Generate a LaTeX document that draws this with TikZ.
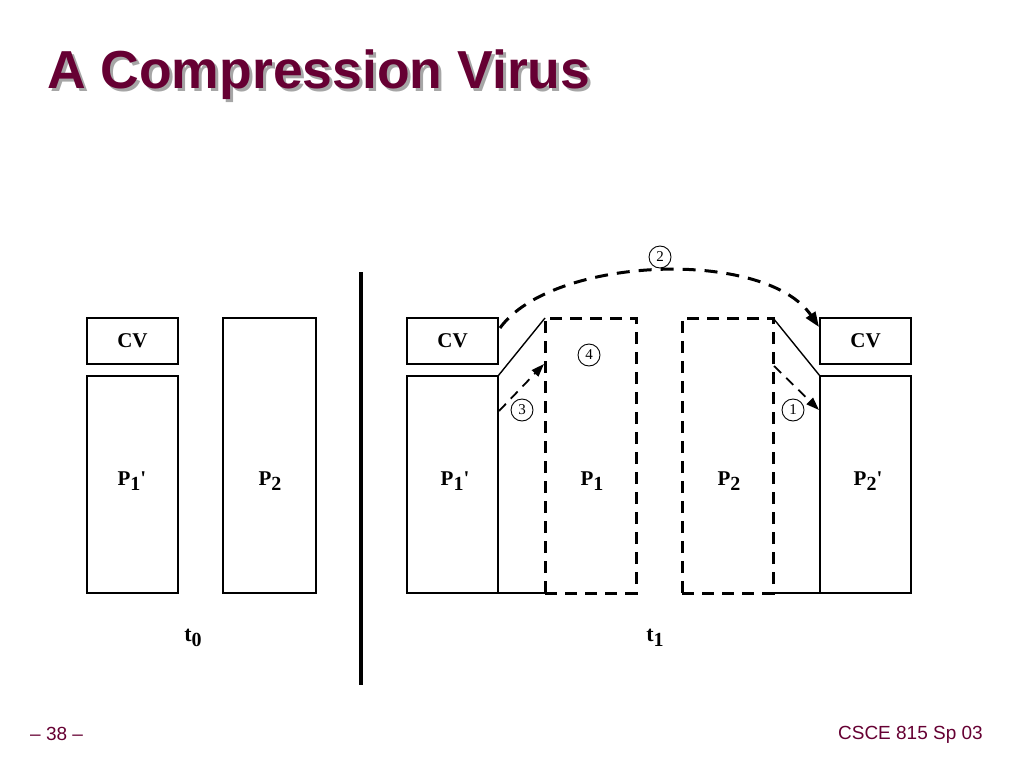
\documentclass[tikz,border=0pt]{standalone}
\usepackage{fontspec}
\setmainfont{Liberation Serif}
\newfontfamily\sansf{Liberation Sans}
\usetikzlibrary{arrows.meta}
\definecolor{maroon}{HTML}{660033}
\definecolor{shadowgray}{HTML}{A6A6A6}
\newcommand{\lbl}[2]{#1{\fontsize{20}{20}\selectfont\raisebox{-5pt}{#2}}}
\begin{document}
\begin{tikzpicture}[x=1pt,y=-1pt,
  box/.style={draw,line width=1.6pt,inner sep=0pt,outer sep=0pt,minimum width=91pt,font=\fontsize{21}{21}\selectfont\bfseries},
  dbox/.style={draw,line width=3pt,dash pattern=on 12pt off 8pt,inner sep=0pt,outer sep=0pt,minimum width=91pt,minimum height=275pt},
  plabel/.style={inner sep=0pt,font=\fontsize{21}{21}\selectfont\bfseries},
  solid line/.style={line width=1.4pt},
  bigdash/.style={line width=3pt,dash pattern=on 13pt off 9pt},
  smalldash/.style={line width=1.8pt,dash pattern=on 10pt off 7pt},
  tip/.style={-{Triangle[length=13pt,width=9pt]}},
  num/.style={circle,draw,line width=0.9pt,inner sep=0pt,minimum size=22pt,font=\fontsize{15}{15}\selectfont},
  tlabel/.style={inner sep=0pt,font=\fontsize{22}{22}\selectfont\bfseries},
  footer/.style={text=maroon,font=\sansf\fontsize{19}{19}\selectfont}]
\useasboundingbox (0,0) rectangle (1024,768);
\fill[white] (0,0) rectangle (1024,768);
% title
\node[anchor=base west,inner sep=0pt,text=shadowgray,font=\sansf\bfseries\fontsize{53.5}{53.5}\selectfont] (titleshadow) at (50,91) {A Compression Virus};
\node[anchor=base west,inner sep=0pt,text=maroon,font=\sansf\bfseries\fontsize{53.5}{53.5}\selectfont] (title) at (47,88) {A Compression Virus};
% left part t0
\node[box,minimum height=46pt] (cvA) at (132.5,341) {CV};
\node[box,minimum height=217pt] (p1pA) at (132.5,484.5) {};
\node[plabel] at (132,481) (p1pAl) {\lbl{P}{1}\textquotesingle};
\node[box,minimum width=93pt,minimum height=275pt] (p2A) at (269.5,455.5) {};
\node[plabel] at (270,481) (p2Al) {\lbl{P}{2}};
\node[tlabel] (t0) at (193,638) {\lbl{t}{0}};
% divider
\coordinate (divtop) at (361,272);
\coordinate (divbot) at (361,685);
\draw[line width=4pt] (divtop) -- (divbot);
% right part t1
\node[box,minimum height=46pt] (cvB) at (452.5,341) {CV};
\node[box,minimum height=217pt] (p1pB) at (452.5,484.5) {};
\node[plabel] at (455,481) (p1pBl) {\lbl{P}{1}\textquotesingle};
\node[dbox] (p1D) at (590.5,455.5) {};
\node[plabel] at (592,481) (p1Dl) {\lbl{P}{1}};
\node[dbox] (p2D) at (727.5,455.5) {};
\node[plabel] at (729,481) (p2Dl) {\lbl{P}{2}};
\node[box,minimum height=46pt] (cvC) at (865.5,341) {CV};
\node[box,minimum height=217pt] (p2pC) at (865.5,484.5) {};
\node[plabel] at (868,481) (p2pCl) {\lbl{P}{2}\textquotesingle};
\node[tlabel] (t1) at (655,638) {\lbl{t}{1}};
% solid connectors
\draw[solid line] (p1pB.north east) -- (p1D.north west);
\draw[solid line] (p1pB.south east) -- (p1D.south west);
\draw[solid line] (p2D.north east) -- (p2pC.north west);
\draw[solid line] (p2D.south east) -- (p2pC.south west);
% arc 2
\coordinate (a2s) at (500,328);
\coordinate (a2e) at (819,327);
\draw[bigdash,-{Triangle[length=15pt,width=11pt]}] (a2s) .. controls (552,256) and (765,248) .. (a2e);
\node[num] (n2) at (660,257) {2};
% arrow 3
\coordinate (a3s) at (499,411);
\coordinate (a3e) at (544,364);
\draw[smalldash,tip] (a3s) -- (a3e);
\node[num] (n3) at (522,410) {3};
% number 4
\node[num] (n4) at (589,355) {4};
% arrow 1
\coordinate (a1s) at (774,366);
\coordinate (a1e) at (819,410);
\draw[smalldash,tip] (a1s) -- (a1e);
\node[num] (n1) at (793,410) {1};
% footer
\node[footer,anchor=base west,inner sep=0pt] (pg) at (30,740) {– 38 –};
\node[footer,anchor=base east,inner sep=0pt] (course) at (983,739) {CSCE 815 Sp 03};
\end{tikzpicture}
\end{document}
